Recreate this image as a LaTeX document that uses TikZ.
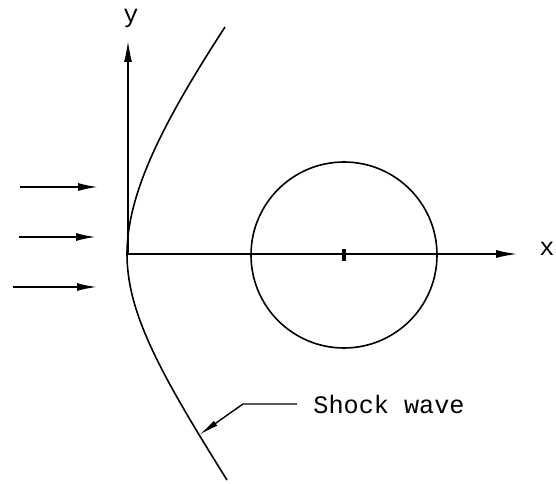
\documentclass[tikz,border=0pt]{standalone}
\usepackage{fontspec}
\setmonofont{Liberation Mono}
\usepackage{tikz}
\usetikzlibrary{arrows.meta, positioning, calc}
\tikzset{
    axis/.style  ={line width=1pt, -{Latex[length=11pt, width=4pt]}},
    flow/.style  ={line width=0.9pt, -{Latex[length=10pt, width=4pt]}},
    curve/.style ={line width=0.8pt},
    lead/.style  ={line width=0.7pt, -{Latex[length=10pt, width=3pt]}},
    lbl/.style   ={font=\ttfamily\fontsize{12.6}{14}\selectfont, inner sep=0pt}
}

\begin{document}
\begin{tikzpicture}[x=0.5pt, y=0.5pt]
  \useasboundingbox (0,0) rectangle (556,483);

  % axes
  \coordinate (O)    at (128,229);
  \coordinate (ytip) at (128,443);
  \coordinate (xtip) at (518,229);
  \draw[axis] (O) -- (ytip);
  \draw[axis] (O) -- (xtip);
  \node[lbl] (ylab) at (131,465) {y};
  \node[lbl] (xlab) at (547,234) {x};

  % body
  \node[circle, draw, line width=0.8pt, minimum size=93pt, inner sep=0pt] (body) at (344,228) {};
  \draw[line width=1.6pt] ($(body.center)+(0,-6)$) -- ($(body.center)+(0,6)$);

  % shock wave, upper and lower branch
  \coordinate (vtx) at (127,229);
  \draw[curve] (vtx) .. controls (127,292) and (166,365) .. (225,456);
  \draw[curve] (vtx) .. controls (127,170) and (160,110) .. coordinate[pos=0.85] (hit) (227,3);
  \coordinate (kink) at (243,79);
  \node[lbl, anchor=west, inner xsep=8pt] (shock) at (297,79) {Shock wave};
  \draw[lead] (shock.west) -- (kink) -- (hit);

  % oncoming flow
  \foreach \i/\xs/\xe/\yy in {1/20/98/296, 2/19/96/246, 3/13/97/196} {
    \coordinate (s\i) at (\xs,\yy);
    \coordinate (e\i) at (\xe,\yy);
    \draw[flow] (s\i) -- (e\i);
  }
\end{tikzpicture}
\end{document}
